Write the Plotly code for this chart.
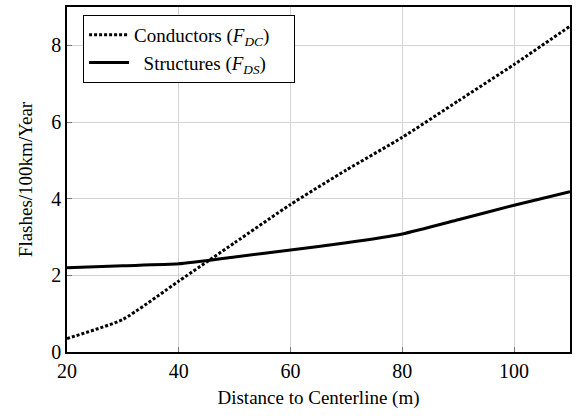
import plotly.graph_objects as go

distance = [20, 30, 40, 50, 60, 70, 80, 90, 100, 110]
conductors = [0.35, 0.85, 1.85, 2.85, 3.85, 4.75, 5.6, 6.55, 7.5, 8.5]
structures = [2.2, 2.25, 2.3, 2.48, 2.66, 2.85, 3.08, 3.45, 3.83, 4.18]

x_ticks = [20, 40, 60, 80, 100]
y_ticks = [0, 2, 4, 6, 8]

fig = go.Figure()
fig.add_trace(go.Scatter(
    x=distance, y=conductors, mode="lines",
    name="Conductors (<i>F</i><sub><i>DC</i></sub>)&nbsp;&nbsp;&nbsp;&nbsp;",
    line=dict(color="black", width=3, dash="3px,2px", shape="spline", smoothing=0.5),
    legendgroup="a",
))
fig.add_trace(go.Scatter(
    x=distance, y=structures, mode="lines",
    name="&nbsp;&nbsp;Structures (<i>F</i><sub><i>DS</i></sub>)",
    line=dict(color="black", width=3, shape="spline", smoothing=0.5),
    legendgroup="b",
))

font_family = "Liberation Serif"
fig.update_layout(
    width=579, height=420,
    margin=dict(l=67, r=9, t=5, b=68),
    plot_bgcolor="white", paper_bgcolor="white",
    font=dict(family=font_family, size=20, color="black"),
    showlegend=True,
    legend=dict(
        x=0.032, y=0.977, xanchor="left", yanchor="top",
        bordercolor="black", borderwidth=1, bgcolor="white",
        font=dict(family=font_family, size=19),
        tracegroupgap=0, itemwidth=40,
    ),
    xaxis=dict(
        range=[20, 110], tickvals=x_ticks,
        showgrid=True, gridcolor="#d3d3d3", gridwidth=1,
        showline=True, linecolor="black", linewidth=1.5, mirror=True,
        ticks="inside", ticklen=5, tickcolor="#777",
        zeroline=False,
        title=dict(text="Distance to Centerline (m)", font=dict(family=font_family, size=19), standoff=10),
        tickfont=dict(family=font_family, size=20),
    ),
    yaxis=dict(
        range=[0, 9], tickvals=y_ticks,
        showgrid=True, gridcolor="#d3d3d3", gridwidth=1,
        showline=True, linecolor="black", linewidth=1.5, mirror=True,
        ticks="inside", ticklen=5, tickcolor="#777",
        zeroline=False,
        title=dict(text="Flashes/100km/Year", font=dict(family=font_family, size=19), standoff=14),
        tickfont=dict(family=font_family, size=20),
    ),
)

fig.write_html("out.html", config={"displayModeBar": False},
               post_script="document.body.style.margin='0px';")
